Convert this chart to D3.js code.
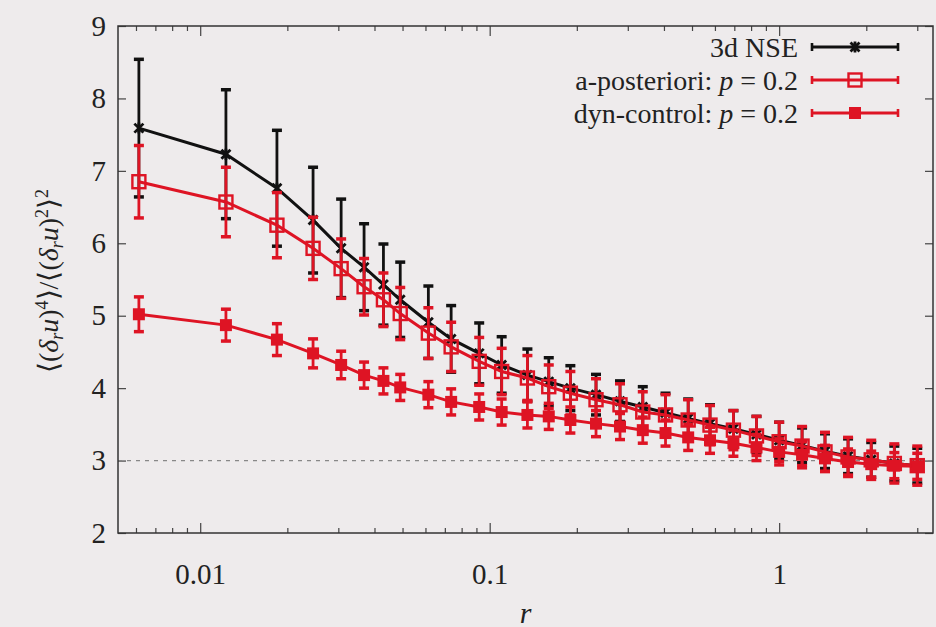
<!DOCTYPE html>
<html>
<head>
<meta charset="utf-8">
<script src="https://cdn.jsdelivr.net/npm/d3@7"></script>
<style>
  body { margin: 0; background: #eeebec; }
  svg { display: block; }
</style>
</head>
<body>
<svg id="chart" width="936" height="627"></svg>
<script>
// separation r (first points are k*2pi/1024, then roughly log-spaced)
const rValues = [0.00614, 0.01227, 0.01841, 0.02454, 0.03068, 0.03682, 0.04295, 0.04909,
  0.0614, 0.0736, 0.092, 0.110, 0.135, 0.160, 0.190, 0.233, 0.282, 0.338, 0.405, 0.485,
  0.577, 0.695, 0.835, 1.0, 1.2, 1.44, 1.73, 2.08, 2.50, 3.0];

const nseMean = [7.59, 7.23, 6.76, 6.32, 5.93, 5.67, 5.43, 5.22, 4.91, 4.68, 4.48, 4.32, 4.18, 4.09, 4.00,
  3.91, 3.82, 3.74, 3.66, 3.58, 3.51, 3.44, 3.36, 3.28, 3.21, 3.13, 3.06, 3.01, 2.96, 2.93];
const nseErr = [0.95, 0.89, 0.80, 0.73, 0.68, 0.60, 0.56, 0.52, 0.50, 0.46, 0.42, 0.39, 0.36, 0.33, 0.31,
  0.28, 0.28, 0.28, 0.27, 0.27, 0.26, 0.25, 0.25, 0.25, 0.24, 0.24, 0.24, 0.24, 0.24, 0.24];

const postMean = [6.85, 6.57, 6.25, 5.93, 5.65, 5.40, 5.22, 5.03, 4.76, 4.57, 4.37, 4.23, 4.14, 4.02, 3.93,
  3.84, 3.77, 3.67, 3.63, 3.56, 3.49, 3.42, 3.34, 3.26, 3.20, 3.12, 3.05, 3.01, 2.96, 2.93];
const postErr = [0.50, 0.48, 0.45, 0.43, 0.41, 0.39, 0.37, 0.36, 0.35, 0.34, 0.33, 0.32, 0.31, 0.30, 0.30,
  0.29, 0.29, 0.28, 0.28, 0.28, 0.27, 0.27, 0.27, 0.27, 0.27, 0.27, 0.27, 0.27, 0.27, 0.27];

const dynMean = [5.02, 4.87, 4.67, 4.48, 4.32, 4.18, 4.10, 4.01, 3.91, 3.81, 3.74, 3.67, 3.63, 3.61, 3.56,
  3.51, 3.47, 3.42, 3.38, 3.32, 3.28, 3.24, 3.18, 3.12, 3.08, 3.03, 2.98, 2.95, 2.93, 2.92];
const dynErr = [0.24, 0.22, 0.22, 0.20, 0.19, 0.18, 0.18, 0.18, 0.18, 0.18, 0.18, 0.18, 0.18, 0.18, 0.18,
  0.18, 0.18, 0.18, 0.18, 0.18, 0.18, 0.18, 0.18, 0.18, 0.18, 0.18, 0.18, 0.18, 0.18, 0.18];

const yTicks = [2, 3, 4, 5, 6, 7, 8, 9];
const xTicks = [0.01, 0.1, 1];
const xTickLabels = ["0.01", "0.1", "1"];
const xMinorTicks = [0.006, 0.007, 0.008, 0.009, 0.02, 0.03, 0.04, 0.05, 0.06, 0.07, 0.08, 0.09,
  0.2, 0.3, 0.4, 0.5, 0.6, 0.7, 0.8, 0.9, 2, 3];
const gaussLevel = 3;

const seriesNames = ["3d NSE", "a-posteriori: ", "dyn-control: "];

const plotLeft = 118, plotRight = 933, plotTop = 26, plotBottom = 533;
const red = "#de1424";
const serif = "'Liberation Serif', serif";

const svg = d3.select("#chart");

const x = d3.scaleLog().domain([0.0052, 3.4]).range([plotLeft, plotRight]);
const y = d3.scaleLinear().domain([2, 9]).range([plotBottom, plotTop]);

function styleTicks(g) {
  g.attr("font-family", null).attr("font-size", null);
  g.select(".domain").remove();
  g.selectAll("text")
    .style("font-family", serif).style("font-size", "29px").attr("fill", "#222");
}

// axes, ticks pointing inward
svg.append("g")
  .attr("transform", `translate(${plotLeft},0)`)
  .call(d3.axisLeft(y).tickValues(yTicks).tickSize(-8).tickPadding(12).tickFormat(d3.format("d")))
  .call(styleTicks);
svg.append("g")
  .attr("transform", `translate(${plotRight},0)`)
  .call(d3.axisRight(y).tickValues(yTicks).tickSize(-8).tickFormat(""))
  .call(styleTicks);

svg.append("g")
  .attr("transform", `translate(0,${plotBottom})`)
  .call(d3.axisBottom(x).tickValues(xTicks).tickSize(-10).tickPadding(30)
    .tickFormat((d, i) => xTickLabels[i]))
  .call(styleTicks);
svg.append("g")
  .attr("transform", `translate(0,${plotBottom})`)
  .call(d3.axisBottom(x).tickValues(xMinorTicks).tickSize(-5).tickFormat(""))
  .call(styleTicks);
svg.append("g")
  .attr("transform", `translate(0,${plotTop})`)
  .call(d3.axisTop(x).tickValues(xTicks).tickSize(-10).tickFormat(""))
  .call(styleTicks);
svg.append("g")
  .attr("transform", `translate(0,${plotTop})`)
  .call(d3.axisTop(x).tickValues(xMinorTicks).tickSize(-5).tickFormat(""))
  .call(styleTicks);

svg.selectAll(".tick line").attr("stroke", "#444").attr("stroke-width", 1.2);

// gaussian reference
svg.append("line")
  .attr("x1", plotLeft).attr("x2", plotRight)
  .attr("y1", y(gaussLevel)).attr("y2", y(gaussLevel))
  .attr("stroke", "#888").attr("stroke-width", 1.2)
  .attr("stroke-dasharray", "4,5");

svg.append("rect")
  .attr("x", plotLeft).attr("y", plotTop)
  .attr("width", plotRight - plotLeft).attr("height", plotBottom - plotTop)
  .attr("fill", "none").attr("stroke", "#333").attr("stroke-width", 1.5);

const line = d3.line().x((d) => x(d.r)).y((d) => y(d.v));

function drawMarker(g, kind, color) {
  if (kind === "cross") {
    g.append("path")
      .attr("d", "M-4.5,-4.5L4.5,4.5M-4.5,4.5L4.5,-4.5M0,-5.5L0,5.5")
      .attr("stroke", color).attr("stroke-width", 2.8).attr("fill", "none");
  } else if (kind === "open") {
    g.append("rect").attr("x", -6.5).attr("y", -6.5).attr("width", 13).attr("height", 13)
      .attr("fill", "none").attr("stroke", color).attr("stroke-width", 2.4);
  } else {
    g.append("rect").attr("x", -6).attr("y", -6).attr("width", 12).attr("height", 12)
      .attr("fill", color);
  }
}

function drawSeries(mean, err, color, kind) {
  const data = rValues.map((r, i) => ({ r: r, v: mean[i], e: err[i] }));
  const g = svg.append("g");
  g.append("path").datum(data).attr("d", line)
    .attr("fill", "none").attr("stroke", color).attr("stroke-width", 3);
  const bars = g.selectAll(".bar").data(data).enter().append("g");
  bars.append("line")
    .attr("x1", (d) => x(d.r)).attr("x2", (d) => x(d.r))
    .attr("y1", (d) => y(d.v - d.e)).attr("y2", (d) => y(d.v + d.e))
    .attr("stroke", color).attr("stroke-width", 2.8);
  [-1, 1].forEach((s) => {
    bars.append("line")
      .attr("x1", (d) => x(d.r) - 5).attr("x2", (d) => x(d.r) + 5)
      .attr("y1", (d) => y(d.v + s * d.e)).attr("y2", (d) => y(d.v + s * d.e))
      .attr("stroke", color).attr("stroke-width", 3.5);
  });
  bars.append("g")
    .attr("transform", (d) => `translate(${x(d.r)},${y(d.v)})`)
    .each(function () { drawMarker(d3.select(this), kind, color); });
}

drawSeries(nseMean, nseErr, "#111", "cross");
drawSeries(postMean, postErr, red, "open");
drawSeries(dynMean, dynErr, red, "filled");

// legend
const legendRows = [
  { name: seriesNames[0], color: "#111", kind: "cross", p: false, y: 47 },
  { name: seriesNames[1], color: red, kind: "open", p: true, y: 80 },
  { name: seriesNames[2], color: red, kind: "filled", p: true, y: 113 }
];
legendRows.forEach((row) => {
  const t = svg.append("text")
    .attr("x", 798).attr("y", row.y)
    .attr("text-anchor", "end").attr("dominant-baseline", "central")
    .style("font-family", serif).style("font-size", "28px").attr("fill", "#222");
  t.append("tspan").text(row.name);
  if (row.p) {
    t.append("tspan").attr("font-style", "italic").text("p");
    t.append("tspan").text(" = 0.2");
  }
  svg.append("line").attr("x1", 812).attr("x2", 898).attr("y1", row.y).attr("y2", row.y)
    .attr("stroke", row.color).attr("stroke-width", 3);
  [812, 898].forEach((cx) => {
    svg.append("line").attr("x1", cx).attr("x2", cx).attr("y1", row.y - 4).attr("y2", row.y + 4)
      .attr("stroke", row.color).attr("stroke-width", 2.6);
  });
  const m = svg.append("g").attr("transform", `translate(855,${row.y})`);
  drawMarker(m, row.kind, row.color);
});

// axis titles
svg.append("text")
  .attr("x", (plotLeft + plotRight) / 2).attr("y", 612)
  .attr("text-anchor", "middle").attr("dominant-baseline", "central")
  .style("font-family", serif).attr("font-style", "italic").style("font-size", "30px")
  .attr("fill", "#222").text("r");

const yl = svg.append("text")
  .attr("transform", "translate(58,281) rotate(-90)")
  .attr("text-anchor", "middle")
  .style("font-family", serif).style("font-size", "28px").attr("fill", "#222");
function piece(txt, opts) {
  const s = yl.append("tspan").text(txt);
  if (opts && opts.it) s.attr("font-style", "italic");
  if (opts && opts.sub) s.style("font-size", "18px").attr("baseline-shift", "-25%");
  if (opts && opts.sup) s.style("font-size", "18px").attr("baseline-shift", "55%");
}
piece("⟨(");
piece("δ", { it: true });
piece("r", { it: true, sub: true });
piece("u", { it: true });
piece(")");
piece("4", { sup: true });
piece("⟩/⟨(");
piece("δ", { it: true });
piece("r", { it: true, sub: true });
piece("u", { it: true });
piece(")");
piece("2", { sup: true });
piece("⟩");
piece("2", { sup: true });
</script>
</body>
</html>
